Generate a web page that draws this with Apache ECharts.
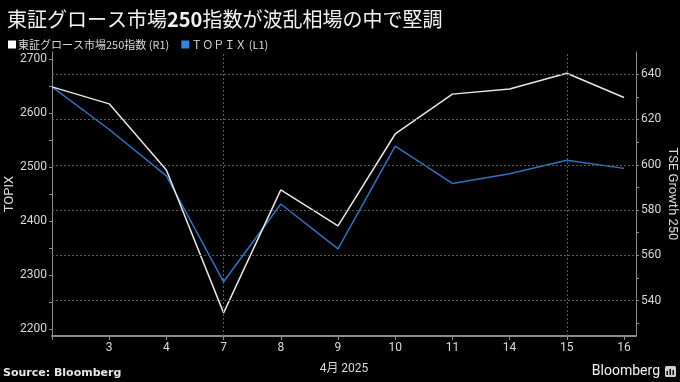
<!DOCTYPE html>
<html>
<head>
<meta charset="utf-8">
<script src="https://cdn.jsdelivr.net/npm/echarts@6/dist/echarts.min.js"></script>
<style>
html,body{margin:0;padding:0;background:#000;}
#c{width:680px;height:382px;}
</style>
</head>
<body>
<div id="c"></div>
<script>
// ---- data ----
var dates = ['2', '3', '4', '7', '8', '9', '10', '11', '14', '15', '16'];
var topix = [2649, 2570, 2484, 2288, 2432, 2349, 2539, 2470, 2488, 2513, 2498];
var growth250 = [634.4, 626.9, 597.7, 534.6, 588.9, 573.0, 613.6, 631.2, 633.5, 640.4, 629.7];
var leftTicks = [2200, 2300, 2400, 2500, 2600, 2700];
var leftMinor = [2200, 2250, 2300, 2350, 2400, 2450, 2500, 2550, 2600, 2650, 2700];
var rightTicks = [540, 560, 580, 600, 620, 640];
var rightMinor = [530, 540, 550, 560, 570, 580, 590, 600, 610, 620, 630, 640];
var weekLines = [3, 9];

var FONT = 'Roboto, "Noto Sans CJK JP", sans-serif';
var TXT = '#d9d9d9';
var AXIS = '#8c8c8c';

var xIdx = dates.map(function (d, i) { return i; });
var topixData = topix.map(function (v, i) { return [i, v]; });
var growthData = growth250.map(function (v, i) { return [i, v]; });
function plain(v) { return String(Math.round(v)); }

var chart = echarts.init(document.getElementById('c'), null, {renderer: 'canvas'});
chart.setOption({
  backgroundColor: '#000',
  animation: false,
  textStyle: {fontFamily: FONT},
  title: {
    text: '{a|東証グロース市場}{b|250}{a|指数が波乱相場の中で堅調}',
    left: 2, top: 4,
    textStyle: {
      fontWeight: 'normal',
      rich: {
        a: {fontSize: 20, color: '#f2f2f2', fontWeight: 'normal', fontFamily: '"Noto Sans CJK JP", sans-serif'},
        b: {fontSize: 20, color: '#f2f2f2', fontWeight: 'bold', fontFamily: '"Noto Sans CJK JP", sans-serif'}
      }
    }
  },
  legend: {
    left: 3, top: 34,
    icon: 'rect', itemWidth: 8, itemHeight: 8, itemGap: 12,
    textStyle: {color: TXT, fontSize: 11, padding: [0, 0, 0, -3], fontFamily: '"Noto Sans CJK JP", sans-serif'},
    data: ['東証グロース市場250指数 (R1)', 'ＴＯＰＩＸ (L1)']
  },
  grid: {left: 52, right: 44, top: 52, bottom: 46, containLabel: false, outerBoundsMode: 'none'},
  xAxis: {
    type: 'value', min: 0, max: 10.21,
    name: '4月 2025', nameLocation: 'middle', nameGap: 27, nameMoveOverlap: false,
    nameTextStyle: {color: TXT, fontSize: 12},
    axisLine: {show: true, lineStyle: {color: AXIS, width: 2}},
    axisTick: {show: true, length: 4, lineStyle: {color: AXIS}, customValues: xIdx},
    axisLabel: {
      color: TXT, fontSize: 12, margin: 6,
      customValues: xIdx.slice(1),
      formatter: function (v) { return dates[Math.round(v)]; }
    },
    splitLine: {show: false}
  },
  yAxis: [{
    type: 'value', position: 'left', min: 2187.6, max: 2713.5,
    name: 'TOPIX', nameLocation: 'middle', nameGap: 36, nameRotate: 90, nameMoveOverlap: false,
    nameTextStyle: {color: TXT, fontSize: 13},
    axisLine: {show: true, lineStyle: {color: AXIS}},
    axisTick: {show: true, length: 3, lineStyle: {color: AXIS}, customValues: leftMinor},
    axisLabel: {color: TXT, fontSize: 12, margin: 5, customValues: leftTicks, formatter: plain},
    splitLine: {show: false}
  }, {
    type: 'value', position: 'right', min: 524.4, max: 649.8,
    name: 'TSE Growth 250', nameLocation: 'middle', nameGap: 30, nameRotate: -90, nameMoveOverlap: false,
    nameTextStyle: {color: TXT, fontSize: 13},
    axisLine: {show: true, lineStyle: {color: AXIS}},
    axisTick: {show: true, length: 3, lineStyle: {color: AXIS}, customValues: rightMinor},
    axisLabel: {color: TXT, fontSize: 12, margin: 5, customValues: rightTicks, formatter: plain},
    splitLine: {show: false}
  }],
  series: [{
    name: '東証グロース市場250指数 (R1)',
    type: 'line', yAxisIndex: 1,
    data: growthData,
    showSymbol: false, symbol: 'none',
    lineStyle: {color: '#e6e6e6', width: 1.5},
    itemStyle: {color: '#ffffff'},
    z: 3,
    markLine: {
      silent: true, symbol: ['none', 'none'], label: {show: false},
      lineStyle: {color: '#5a5a5a', type: [2, 2], width: 1},
      data: rightTicks.map(function (v) { return {yAxis: v}; })
        .concat(weekLines.map(function (v) { return {xAxis: v}; }))
    }
  }, {
    name: 'ＴＯＰＩＸ (L1)',
    type: 'line', yAxisIndex: 0,
    data: topixData,
    showSymbol: false, symbol: 'none',
    lineStyle: {color: '#2a74c4', width: 1.5},
    itemStyle: {color: '#2f86e0'},
    z: 2
  }],
  graphic: [{
    type: 'text', left: 3, top: 368,
    style: {text: 'Source: Bloomberg', fill: '#e6e6e6', font: 'bold 11px "DejaVu Sans", sans-serif'}
  }, {
    type: 'text', right: 20, top: 364,
    style: {text: 'Bloomberg', fill: '#f2f2f2', font: '14px Roboto, sans-serif'}
  }, {
    type: 'rect', right: 4, top: 366,
    shape: {width: 11, height: 11, r: 1.5},
    style: {fill: '#cfcfcf'}
  }, {
    type: 'group', right: 6, top: 369,
    children: [
      {type: 'rect', shape: {x: 0, y: 3, width: 1.5, height: 4}, style: {fill: '#000'}},
      {type: 'rect', shape: {x: 3, y: 1, width: 1.5, height: 6}, style: {fill: '#000'}},
      {type: 'rect', shape: {x: 6, y: 2, width: 1.5, height: 5}, style: {fill: '#000'}}
    ]
  }]
});
</script>
</body>
</html>
